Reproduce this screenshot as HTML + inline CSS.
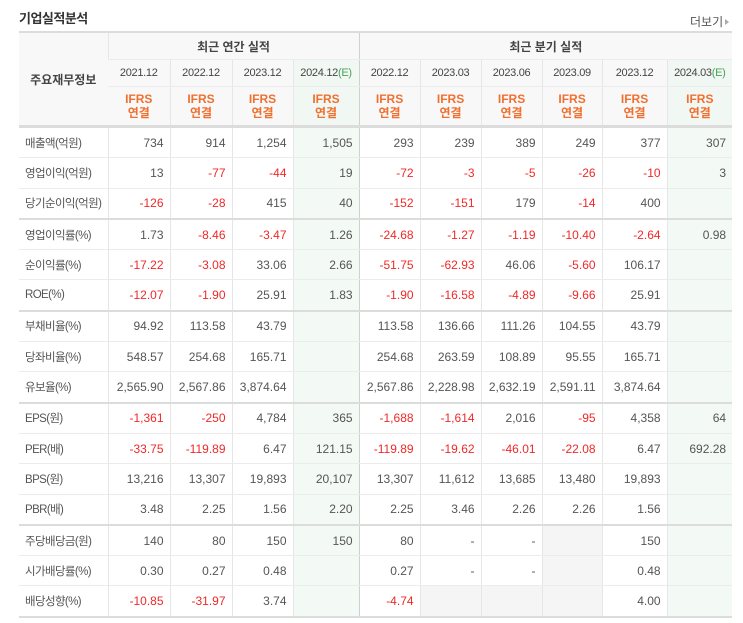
<!DOCTYPE html>
<html><head><meta charset="utf-8"><style>
body{margin:0;background:#fff;font-family:"Liberation Sans","Noto Sans CJK KR",sans-serif;color:#555;}
.t{position:absolute;left:19px;top:8px;font-size:13px;font-weight:bold;color:#333;letter-spacing:-0.5px}
.more{position:absolute;left:690px;top:13px;font-size:12px;color:#555}
.more:after{content:"";display:inline-block;border-left:4px solid #aaa;border-top:3px solid transparent;border-bottom:3px solid transparent;margin-left:2px;vertical-align:1px}
table{position:absolute;left:19px;top:31px;border-collapse:collapse;table-layout:fixed;width:713px;font-size:12px}
td,th{padding:0;border-left:1px solid #e6e6e6;border-bottom:1px solid #ececec;white-space:nowrap;overflow:hidden}
tr td:first-child,tr th:first-child{border-left:none}
thead th{background:#f8f8f8;font-weight:normal;color:#444;text-align:center}
thead tr:first-child th{border-top:2px solid #dcdcdc;font-weight:bold;height:26px;font-size:12px}
.d th{height:26px;font-size:11px;letter-spacing:-0.3px}
.i th{height:38px;color:#f07030;font-weight:bold;font-size:12px;line-height:14px;border-bottom:3px solid #dcdcdc}
thead th.g{background:#f1f7f2}
.e{color:#4aa35a}
tbody td{height:29.3px;text-align:right;padding-right:6px;color:#555}
tbody td:first-child{text-align:left;padding-left:6px;padding-right:0;color:#555;font-size:11.5px;letter-spacing:-0.6px}
.g{background:#f3f9f4}
.x{background:#f5f5f5}
.r{color:#f02828}
tr.s td{border-bottom:2px solid #dcdcdc}
tbody tr:last-child td{border-bottom:2px solid #dcdcdc}
.sep{border-left:1px solid #d0d0d0}
</style></head><body>
<div class="t">기업실적분석</div>
<div class="more">더보기</div>
<table>
<colgroup><col style="width:89px"><col style="width:62px"><col style="width:62px"><col style="width:61px"><col style="width:66px"><col style="width:61px"><col style="width:61px"><col style="width:61px"><col style="width:60px"><col style="width:65px"><col style="width:65px"></colgroup>
<thead>
<tr><th rowspan="3" style="border-bottom:3px solid #dcdcdc">주요재무정보</th><th colspan="4">최근 연간 실적</th><th colspan="6" class="sep">최근 분기 실적</th></tr>
<tr class="d"><th>2021.12</th><th>2022.12</th><th>2023.12</th><th class="g">2024.12<span class="e">(E)</span></th><th class="sep">2022.12</th><th>2023.03</th><th>2023.06</th><th>2023.09</th><th>2023.12</th><th class="g">2024.03<span class="e">(E)</span></th></tr>
<tr class="i"><th>IFRS<br>연결</th><th>IFRS<br>연결</th><th>IFRS<br>연결</th><th class="g">IFRS<br>연결</th><th class="sep">IFRS<br>연결</th><th>IFRS<br>연결</th><th>IFRS<br>연결</th><th>IFRS<br>연결</th><th>IFRS<br>연결</th><th class="g">IFRS<br>연결</th></tr>
</thead>
<tbody>
<tr><td>매출액(억원)</td><td>734</td><td>914</td><td>1,254</td><td class="g">1,505</td><td class="sep">293</td><td>239</td><td>389</td><td>249</td><td>377</td><td class="g">307</td></tr>
<tr><td>영업이익(억원)</td><td>13</td><td class="r">-77</td><td class="r">-44</td><td class="g">19</td><td class="sep r">-72</td><td class="r">-3</td><td class="r">-5</td><td class="r">-26</td><td class="r">-10</td><td class="g">3</td></tr>
<tr class="s"><td>당기순이익(억원)</td><td class="r">-126</td><td class="r">-28</td><td>415</td><td class="g">40</td><td class="sep r">-152</td><td class="r">-151</td><td>179</td><td class="r">-14</td><td>400</td><td class="g"></td></tr>
<tr><td>영업이익률(%)</td><td>1.73</td><td class="r">-8.46</td><td class="r">-3.47</td><td class="g">1.26</td><td class="sep r">-24.68</td><td class="r">-1.27</td><td class="r">-1.19</td><td class="r">-10.40</td><td class="r">-2.64</td><td class="g">0.98</td></tr>
<tr><td>순이익률(%)</td><td class="r">-17.22</td><td class="r">-3.08</td><td>33.06</td><td class="g">2.66</td><td class="sep r">-51.75</td><td class="r">-62.93</td><td>46.06</td><td class="r">-5.60</td><td>106.17</td><td class="g"></td></tr>
<tr class="s"><td>ROE(%)</td><td class="r">-12.07</td><td class="r">-1.90</td><td>25.91</td><td class="g">1.83</td><td class="sep r">-1.90</td><td class="r">-16.58</td><td class="r">-4.89</td><td class="r">-9.66</td><td>25.91</td><td class="g"></td></tr>
<tr><td>부채비율(%)</td><td>94.92</td><td>113.58</td><td>43.79</td><td class="g"></td><td class="sep">113.58</td><td>136.66</td><td>111.26</td><td>104.55</td><td>43.79</td><td class="g"></td></tr>
<tr><td>당좌비율(%)</td><td>548.57</td><td>254.68</td><td>165.71</td><td class="g"></td><td class="sep">254.68</td><td>263.59</td><td>108.89</td><td>95.55</td><td>165.71</td><td class="g"></td></tr>
<tr class="s"><td>유보율(%)</td><td>2,565.90</td><td>2,567.86</td><td>3,874.64</td><td class="g"></td><td class="sep">2,567.86</td><td>2,228.98</td><td>2,632.19</td><td>2,591.11</td><td>3,874.64</td><td class="g"></td></tr>
<tr><td>EPS(원)</td><td class="r">-1,361</td><td class="r">-250</td><td>4,784</td><td class="g">365</td><td class="sep r">-1,688</td><td class="r">-1,614</td><td>2,016</td><td class="r">-95</td><td>4,358</td><td class="g">64</td></tr>
<tr><td>PER(배)</td><td class="r">-33.75</td><td class="r">-119.89</td><td>6.47</td><td class="g">121.15</td><td class="sep r">-119.89</td><td class="r">-19.62</td><td class="r">-46.01</td><td class="r">-22.08</td><td>6.47</td><td class="g">692.28</td></tr>
<tr><td>BPS(원)</td><td>13,216</td><td>13,307</td><td>19,893</td><td class="g">20,107</td><td class="sep">13,307</td><td>11,612</td><td>13,685</td><td>13,480</td><td>19,893</td><td class="g"></td></tr>
<tr class="s"><td>PBR(배)</td><td>3.48</td><td>2.25</td><td>1.56</td><td class="g">2.20</td><td class="sep">2.25</td><td>3.46</td><td>2.26</td><td>2.26</td><td>1.56</td><td class="g"></td></tr>
<tr><td>주당배당금(원)</td><td>140</td><td>80</td><td>150</td><td class="g">150</td><td class="sep">80</td><td>-</td><td>-</td><td class="x"></td><td>150</td><td class="g"></td></tr>
<tr><td>시가배당률(%)</td><td>0.30</td><td>0.27</td><td>0.48</td><td class="g"></td><td class="sep">0.27</td><td>-</td><td>-</td><td class="x"></td><td>0.48</td><td class="g"></td></tr>
<tr><td>배당성향(%)</td><td class="r">-10.85</td><td class="r">-31.97</td><td>3.74</td><td class="g"></td><td class="sep r">-4.74</td><td class="x"></td><td class="x"></td><td class="x"></td><td>4.00</td><td class="g"></td></tr>
</tbody>
</table>
</body></html>
